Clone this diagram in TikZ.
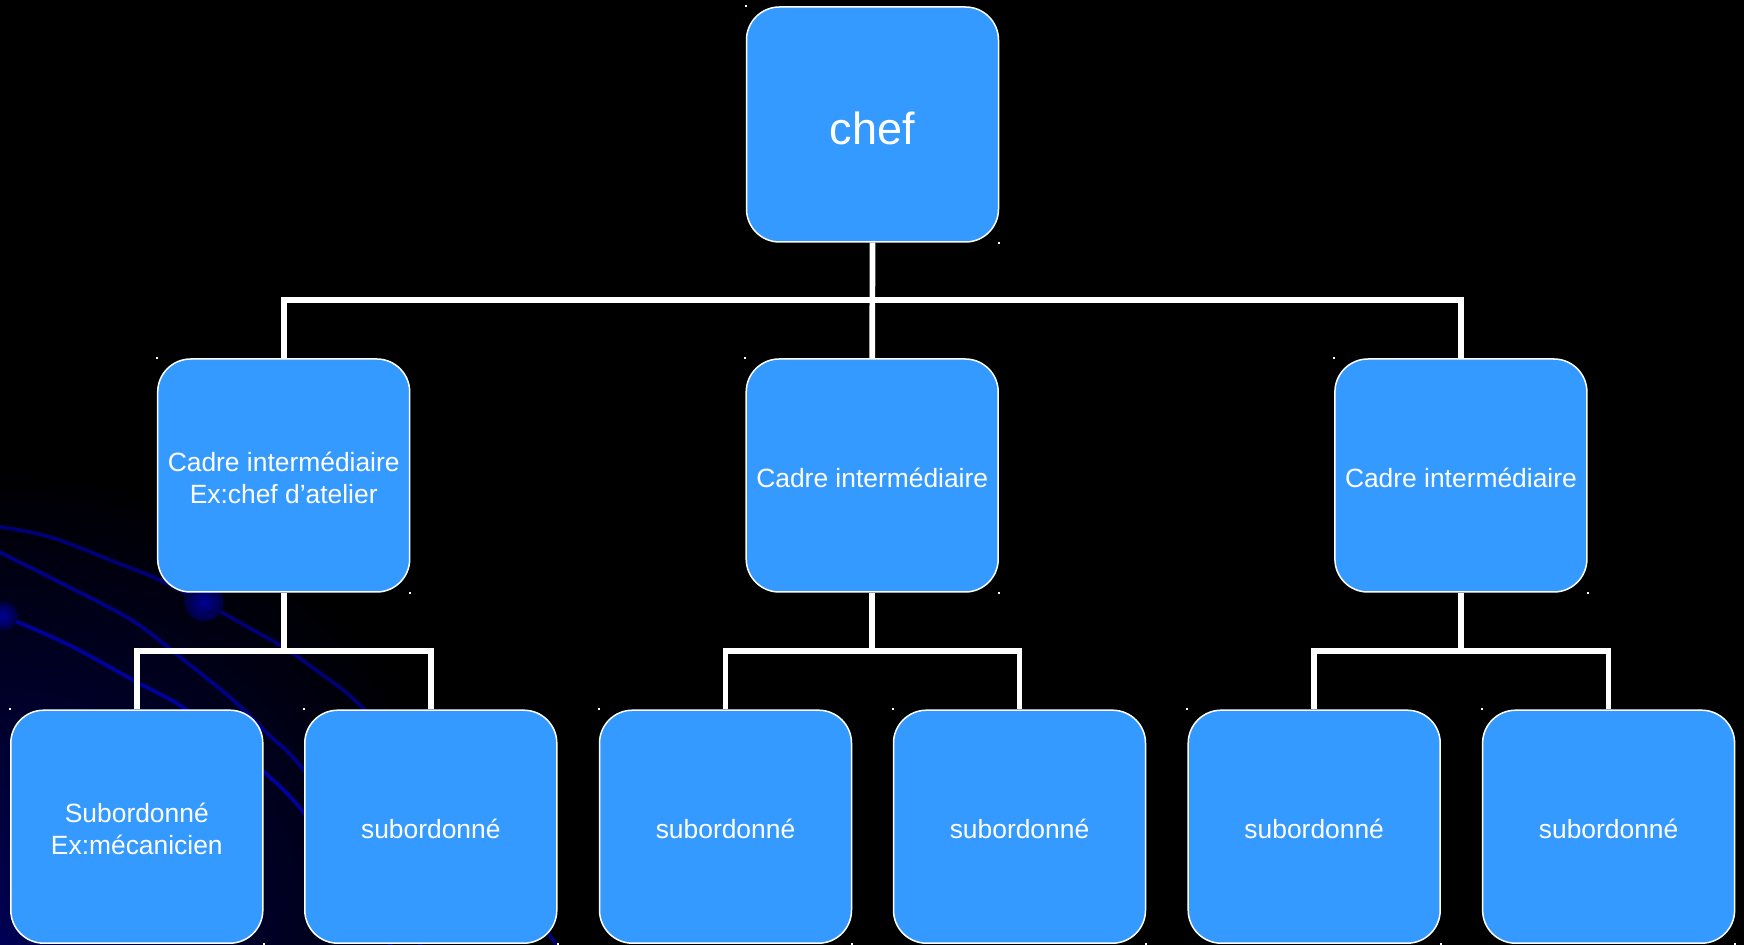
\documentclass[tikz,border=0pt]{standalone}
\usepackage{fontspec}
\setmainfont{Liberation Sans}
\usetikzlibrary{calc}
\definecolor{boxblue}{RGB}{53,154,255}
\definecolor{curveblue}{RGB}{0,0,155}
\definecolor{glow}{RGB}{0,0,85}
\definecolor{dotin}{RGB}{0,0,150}
\definecolor{dotout}{RGB}{0,0,60}
\tikzset{
  orgbox/.style={rectangle, rounded corners=16.5pt, fill=boxblue, draw=white, line width=0.75pt,
    minimum width=126pt, minimum height=116.5pt, text=white, align=center,
    font=\fontsize{13.2pt}{15.9pt}\selectfont, inner sep=0pt, text height=12pt},
  twoline/.style={text height=27.9pt},
  conn/.style={draw=white, line width=2.85pt, line join=miter},
  bgcurve/.style={draw=curveblue, line width=1.9pt},
}
\begin{document}
\begin{tikzpicture}[x=0.5pt,y=-0.5pt]
\useasboundingbox (0,0) rectangle (1744,945);
\fill[black] (0,0) rectangle (1744,945);
% background glow and curves
\begin{scope}
\clip (0,0) rectangle (1744,945);
\shade[inner color=glow, outer color=black] (0,945) circle (480);
\draw[bgcurve, draw=curveblue!75!black] plot[smooth, tension=0.6] coordinates {(-5,526) (50,537) (110,560) (160,580) (203,602) (253,630) (283,647) (320,673) (363,708) (460,810) (553,940) (570,965)};
\draw[bgcurve, draw=curveblue!85!black] plot[smooth, tension=0.6] coordinates {(-5,550) (67,586) (133,621) (185,661) (233,700) (267,733) (304,770) (380,870) (430,965)};
\draw[bgcurve] plot[smooth, tension=0.6] coordinates {(3,616) (67,644) (133,680) (190,712) (263,771) (304,813) (360,890) (400,965)};
\shade[inner color=dotin, outer color=dotout] (204,602) circle (19.5);
\shade[inner color=dotin, outer color=dotout] (3,616) circle (14.5);
\end{scope}
% boxes
\node[orgbox, minimum height=117.5pt, font=\fontsize{22.5pt}{27pt}\selectfont, text height=19.8pt] (chef) at (872.5,124.5) {chef};
\node[orgbox, twoline] (m1) at (283.7,475.5) {Cadre intermédiaire\\Ex:chef d’atelier};
\node[orgbox] (m2) at (872.2,475.5) {Cadre intermédiaire};
\node[orgbox] (m3) at (1460.9,475.5) {Cadre intermédiaire};
\node[orgbox, twoline] (b1) at (136.8,826.7) {Subordonné\\Ex:mécanicien};
\node[orgbox] (b2) at (430.8,826.7) {subordonné};
\node[orgbox] (b3) at (725.5,826.7) {subordonné};
\node[orgbox] (b4) at (1019.5,826.7) {subordonné};
\node[orgbox] (b5) at (1314.2,826.7) {subordonné};
\node[orgbox] (b6) at (1608.6,826.7) {subordonné};
% connectors
\draw[conn] (chef.south) -- (m2.north);
\draw[conn] (m1.north) -- ++(0,-58.5) -| (m3.north);
\draw[conn] (m1.south) -- ++(0,59.5);
\draw[conn] (b1.north) -- ++(0,-58.5) -| (b2.north);
\draw[conn] (m2.south) -- ++(0,59.5);
\draw[conn] (b3.north) -- ++(0,-58.5) -| (b4.north);
\draw[conn] (m3.south) -- ++(0,59.5);
\draw[conn] (b5.north) -- ++(0,-58.5) -| (b6.north);
% tiny corner marks
\foreach \n in {chef,m1,m2,m3,b1,b2,b3,b4,b5,b6}{
  \fill[white] (\n.north west) ++(-1,-1) rectangle ++(2,2);
  \fill[white] (\n.south east) ++(-1,-1) rectangle ++(2,2);
}
\end{tikzpicture}
\end{document}
